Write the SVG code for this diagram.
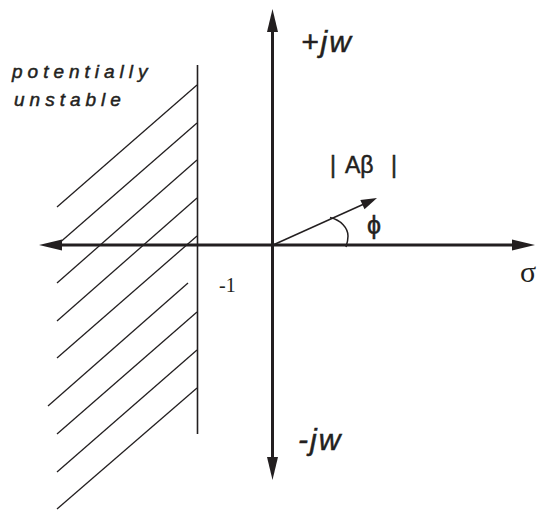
<svg xmlns="http://www.w3.org/2000/svg" width="540" height="510" viewBox="0 0 540 510">
<style>
.ax{stroke:#231f20;stroke-width:3;fill:none}
.hd{fill:#231f20;stroke:none}
.ht{stroke:#231f20;stroke-width:1.3;fill:none}
.bd{stroke:#231f20;stroke-width:1.6;fill:none}
.vec{stroke:#231f20;stroke-width:1.5;fill:none}
.lbl{font-family:"Liberation Sans",Arial,sans-serif;fill:#231f20;stroke:#231f20;stroke-width:0.5}
.it{font-style:italic}
.ser{font-family:"Liberation Serif","Times New Roman",serif;fill:#231f20}
</style>
<rect width="540" height="510" fill="#fff"/>
<g id="hatch">
<line class="bd" x1="197.5" y1="65" x2="197.5" y2="434"/>
<line class="ht" x1="57" y1="207" x2="197" y2="85"/>
<line class="ht" x1="57" y1="245" x2="197" y2="123"/>
<line class="ht" x1="57" y1="283" x2="197" y2="160"/>
<line class="ht" x1="57" y1="321" x2="197" y2="198"/>
<line class="ht" x1="57" y1="358" x2="197" y2="236"/>
<line class="ht" x1="48" y1="406" x2="188" y2="283"/>
<line class="ht" x1="57" y1="434" x2="197" y2="312"/>
<line class="ht" x1="57" y1="472" x2="197" y2="350"/>
<line class="ht" x1="57" y1="509" x2="197" y2="388"/>
</g>
<g id="connectors">
<line class="ax" x1="60" y1="245" x2="515" y2="245"/>
<polygon class="hd" points="39,245 62,239.5 62,250.5"/>
<polygon class="hd" points="535,245 512,239.5 512,250.5"/>
<line class="ax" x1="272.5" y1="30" x2="272.5" y2="460"/>
<polygon class="hd" points="272.5,9 267,32 278,32"/>
<polygon class="hd" points="272.5,480 267,457 278,457"/>
<line class="vec" x1="273" y1="245" x2="364" y2="204"/>
<polygon class="hd" points="377,198 360.3,200 364.5,209.2"/>
<path class="vec" d="M330,217.5 C341,220 348,228 348,236 C348,241 347,244 346,247"/>
</g>
<g id="labels">
<text class="lbl it" x="12" y="78" font-size="19" letter-spacing="5">potentially</text>
<text class="lbl it" x="14" y="106" font-size="19" letter-spacing="5">unstable</text>
<text class="lbl it" x="301" y="52" font-size="30" letter-spacing="2">+jw</text>
<text class="lbl it" x="298" y="450" font-size="30" letter-spacing="2">-jw</text>
<text class="lbl" y="173" font-size="23"><tspan x="330">|</tspan><tspan x="345">Aβ</tspan><tspan x="391">|</tspan></text>
<text class="lbl" x="367" y="234" font-size="25" stroke-width="0.3">ϕ</text>
<text class="ser" x="520" y="282" font-size="30">σ</text>
<text class="ser" x="219" y="292" font-size="20">-1</text>
</g>
</svg>
